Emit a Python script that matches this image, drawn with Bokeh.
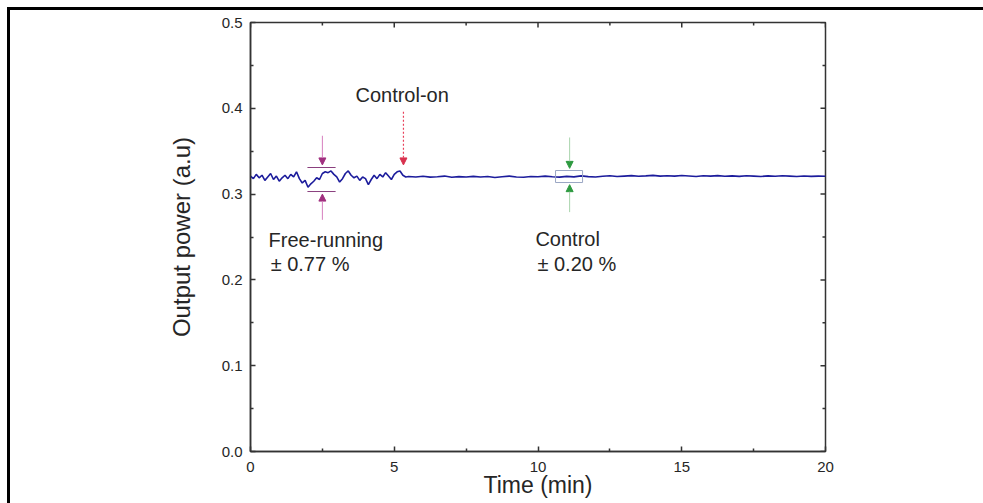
import numpy as np
from bokeh.plotting import figure
from bokeh.models import (Range1d, FixedTicker, Label, Arrow, NormalHead,
                          PrintfTickFormatter)
from bokeh.embed import file_html
from bokeh.resources import INLINE

# ---- data ----
free_time = [round(0.1 * i, 1) for i in range(55)]
free_power = [0.321, 0.318, 0.323, 0.319, 0.322, 0.316, 0.320, 0.324, 0.317, 0.321,
              0.315, 0.319, 0.322, 0.318, 0.323, 0.320, 0.326, 0.318, 0.313, 0.316,
              0.308, 0.312, 0.315, 0.319, 0.317, 0.324, 0.326, 0.325, 0.327, 0.323,
              0.320, 0.314, 0.318, 0.324, 0.327, 0.322, 0.319, 0.321, 0.316, 0.320,
              0.318, 0.311, 0.317, 0.322, 0.318, 0.323, 0.320, 0.325, 0.321, 0.317,
              0.323, 0.326, 0.327, 0.322, 0.320]
ctrl_time = [round(5.5 + 0.25 * i, 2) for i in range(59)]
ctrl_power = [0.3205, 0.3200, 0.3208, 0.3198, 0.3203, 0.3210, 0.3196, 0.3204, 0.3200, 0.3207,
              0.3199, 0.3205, 0.3194, 0.3203, 0.3209, 0.3200, 0.3197, 0.3206, 0.3202, 0.3210,
              0.3203, 0.3198, 0.3207, 0.3201, 0.3212, 0.3204, 0.3199, 0.3208, 0.3213, 0.3205,
              0.3210, 0.3215, 0.3208, 0.3212, 0.3218, 0.3210, 0.3214, 0.3209, 0.3216, 0.3211,
              0.3206, 0.3213, 0.3209, 0.3215, 0.3208, 0.3212, 0.3207, 0.3214, 0.3210, 0.3206,
              0.3212, 0.3208, 0.3213, 0.3209, 0.3205, 0.3211, 0.3207, 0.3210, 0.3208]

x_major = [0, 5, 10, 15, 20]
x_minor = [2.5, 7.5, 12.5, 17.5]
y_major = [0.0, 0.1, 0.2, 0.3, 0.4, 0.5]
y_minor = [0.05, 0.15, 0.25, 0.35, 0.45]
x_max = 20
y_max = 0.5

# annotation values
free_x = 2.5
free_band = [0.331, 0.303]
free_band_x = [1.98, 2.96]
ctrl_x = 11.1
ctrl_band = [0.3275, 0.3135]
ctrl_band_x = [10.61, 11.55]
on_x = 5.32

FONT = "Liberation Sans"
TXT = "#262626"
AX = "#333333"

p = figure(width=983, height=503, x_range=Range1d(0, x_max), y_range=Range1d(0, y_max),
           output_backend="svg", toolbar_location=None,
           min_border_left=250, min_border_right=158, min_border_top=22, min_border_bottom=52)
# page frame lines (top and left) painted behind a transparent border area
p.styles = {"background": "linear-gradient(#000, #000) 7px 7px / 100% 3px no-repeat, "
                          "linear-gradient(#000, #000) 7px 7px / 3px 100% no-repeat, #fff"}
p.border_fill_alpha = 0
p.background_fill_color = "white"
p.xgrid.visible = False
p.ygrid.visible = False
p.outline_line_color = AX
p.outline_line_width = 1.5

xt = FixedTicker(ticks=x_major, minor_ticks=x_minor)
yt = FixedTicker(ticks=y_major, minor_ticks=y_minor)

for ax in (p.xaxis[0], p.yaxis[0]):
    ax.axis_line_color = AX
    ax.axis_line_width = 1.5
    ax.major_tick_in = 5
    ax.major_tick_out = 0
    ax.minor_tick_in = 3
    ax.minor_tick_out = 0
    ax.major_tick_line_color = AX
    ax.minor_tick_line_color = AX
    ax.major_tick_line_width = 1.5
    ax.minor_tick_line_width = 1.5
    ax.major_label_text_font = FONT
    ax.major_label_text_font_size = "15px"
    ax.major_label_text_color = TXT
    ax.axis_label_text_font = FONT
    ax.axis_label_text_font_style = "normal"
    ax.axis_label_text_color = TXT

p.xaxis.ticker = xt
p.yaxis.ticker = yt
p.xaxis.axis_label = "Time (min)"
p.yaxis.axis_label = "Output power (a.u)"
p.xaxis.axis_label_text_font_size = "23px"
p.yaxis.axis_label_text_font_size = "24px"
p.yaxis.formatter = PrintfTickFormatter(format="%.1f")
p.xaxis.major_label_standoff = 10
p.xaxis.axis_label_standoff = -3
p.yaxis.major_label_standoff = 8
p.yaxis.axis_label_standoff = 24

# mirror ticks on top and right (inward)
p.ray(x=x_major, y=[y_max] * len(x_major), length=5, length_units="screen",
      angle=-np.pi / 2, line_color=AX, line_width=1.5)
p.ray(x=x_minor, y=[y_max] * len(x_minor), length=3, length_units="screen",
      angle=-np.pi / 2, line_color=AX, line_width=1.5)
p.ray(x=[x_max] * len(y_major), y=y_major, length=5, length_units="screen",
      angle=np.pi, line_color=AX, line_width=1.5)
p.ray(x=[x_max] * len(y_minor), y=y_minor, length=3, length_units="screen",
      angle=np.pi, line_color=AX, line_width=1.5)

# data line
p.line(free_time + ctrl_time, free_power + ctrl_power, line_color="#1c1c9c", line_width=1.6)

# free-running markers
p.segment(x0=[free_band_x[0]] * 2, x1=[free_band_x[1]] * 2, y0=free_band, y1=free_band,
          line_color="#8a3f7e", line_width=1)
p.add_layout(Arrow(end=NormalHead(size=7, fill_color="#a0307f", line_color="#a0307f"),
                   x_start=free_x, y_start=0.368, x_end=free_x, y_end=0.334,
                   line_color="#d77fbf", line_width=1))
p.add_layout(Arrow(end=NormalHead(size=7, fill_color="#a0307f", line_color="#a0307f"),
                   x_start=free_x, y_start=0.270, x_end=free_x, y_end=0.300,
                   line_color="#d77fbf", line_width=1))

# control-on arrow
p.add_layout(Arrow(end=NormalHead(size=7, fill_color="#d8324e", line_color="#d8324e"),
                   x_start=on_x, y_start=0.396, x_end=on_x, y_end=0.334,
                   line_color="#e8405a", line_width=1.2, line_dash="2 2"))

# control markers
p.quad(left=[ctrl_band_x[0]], right=[ctrl_band_x[1]], top=[ctrl_band[0]], bottom=[ctrl_band[1]],
       fill_alpha=0, line_color="#9aa6c4", line_width=1)
p.add_layout(Arrow(end=NormalHead(size=7, fill_color="#2e9a40", line_color="#2e9a40"),
                   x_start=ctrl_x, y_start=0.366, x_end=ctrl_x, y_end=0.330,
                   line_color="#a8d4ac", line_width=1))
p.add_layout(Arrow(end=NormalHead(size=7, fill_color="#2e9a40", line_color="#2e9a40"),
                   x_start=ctrl_x, y_start=0.279, x_end=ctrl_x, y_end=0.311,
                   line_color="#a8d4ac", line_width=1))

# texts
def lab(x, y, t):
    p.add_layout(Label(x=x, y=y, text=t, text_font=FONT, text_font_size="20px",
                       text_color=TXT, text_baseline="alphabetic", text_align="left"))

lab(3.65, 0.4155, "Control-on")
lab(0.63, 0.246, "Free-running")
lab(0.70, 0.218, "± 0.77 %")
lab(9.91, 0.248, "Control")
lab(9.98, 0.219, "± 0.20 %")

open("out.html", "w").write(file_html(p, INLINE))
